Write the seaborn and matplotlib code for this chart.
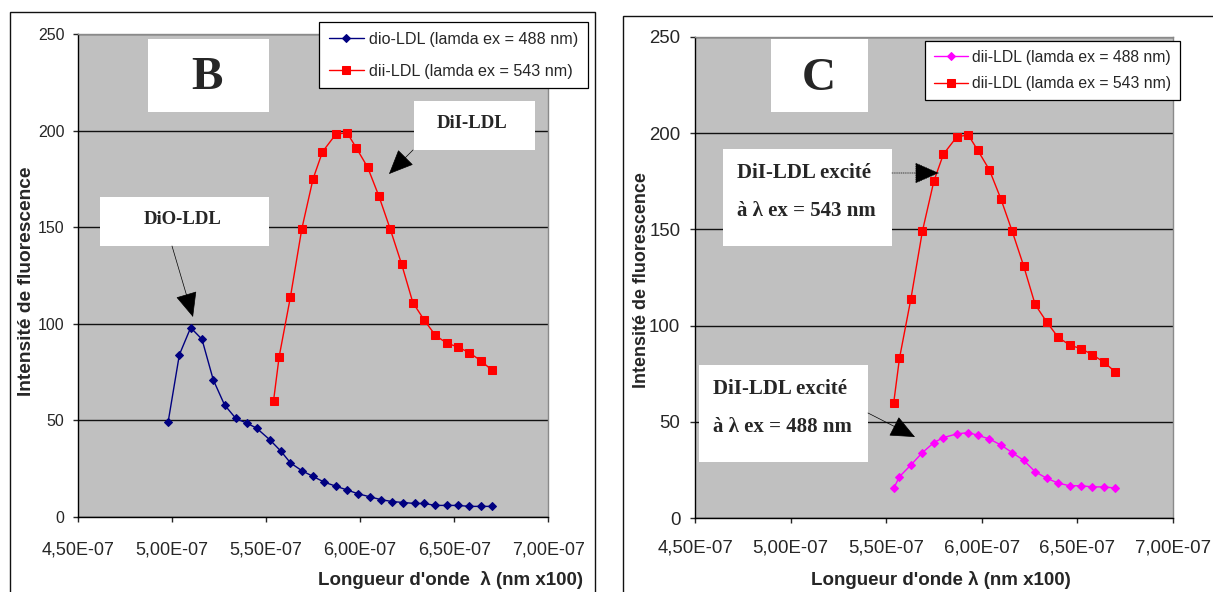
import numpy as np
import matplotlib
matplotlib.use("Agg")
import matplotlib.pyplot as plt
import seaborn as sns
from matplotlib.patches import Rectangle, FancyArrowPatch
from matplotlib.ticker import FuncFormatter, MultipleLocator

# Data (wavelength in nm, intensity in a.u.)
dio_wl_nm = [498, 504, 510, 516, 522, 528, 534, 540, 545, 552, 558, 563, 569, 575, 581,
             587, 593, 599, 605, 611, 617, 623, 629, 634, 640, 646, 652, 658, 664, 670]
dio_488 = [49, 84, 98, 92, 71, 58, 51, 48.5, 46, 40, 34, 28, 24, 21, 18,
           16, 14, 12, 10.5, 9, 8, 7.5, 7, 7, 6, 6, 6, 5.5, 5.5, 5.5]

dii_wl_nm = [554, 557, 563, 569, 575, 580, 587, 593, 598, 604, 610,
             616, 622, 628, 634, 640, 646, 652, 658, 664, 670]
dii_543 = [60, 83, 114, 149, 175, 189, 198, 199, 191, 181, 166,
           149, 131, 111, 102, 94, 90, 88, 85, 81, 76]
dii_488 = [15.6, 21.6, 27.7, 34.1, 39.3, 41.9, 43.8, 44.5, 43.1, 41.2, 38.1,
           34.1, 30.1, 24.2, 20.8, 18.3, 16.9, 16.9, 16.3, 16.3, 15.7]

dio_wl = np.array(dio_wl_nm) * 1e-9
dii_wl = np.array(dii_wl_nm) * 1e-9

sns.set_style("ticks")
plt.rcParams["font.family"] = ["Liberation Sans", "DejaVu Sans"]
SERIF = ["Liberation Serif", "DejaVu Serif"]

W, H = 1213, 592
fig = plt.figure(figsize=(W / 100, H / 100), dpi=100)


def fx(px):
    return px / W


def fy(py):
    return 1 - py / H


def style_axes(ax, ytick_size, xtick_size, xpad, ypad):
    ax.set_facecolor("#C0C0C0")
    ax.set_xlim(4.5e-7, 7.0e-7)
    ax.set_ylim(0, 250)
    ax.xaxis.set_major_locator(MultipleLocator(0.5e-7))
    ax.yaxis.set_major_locator(MultipleLocator(50))
    ax.xaxis.set_major_formatter(FuncFormatter(lambda v, p: f"{v:.2E}".replace(".", ",")))
    ax.yaxis.grid(True, color="#111111", linewidth=1.0)
    ax.xaxis.grid(False)
    ax.set_axisbelow(True)
    for s in ["left", "bottom"]:
        ax.spines[s].set_color("black")
        ax.spines[s].set_linewidth(1.0)
    for s in ["top", "right"]:
        ax.spines[s].set_color("#8a8a8a")
        ax.spines[s].set_linewidth(1.0)
    ax.tick_params(axis="x", direction="out", length=3.6, width=1, labelsize=xtick_size, pad=xpad)
    ax.tick_params(axis="y", direction="out", length=3.6, width=1, labelsize=ytick_size, pad=ypad)
    ax.set_xlabel("")
    ax.set_ylabel("")


# Panel B
ax1 = fig.add_axes([fx(77.7), fy(517), (548.4 - 77.7) / W, (517 - 34) / H])
sns.lineplot(x=dio_wl, y=dio_488, ax=ax1, color="#000080", marker="D", markersize=4.3,
             markeredgecolor="#000080", linewidth=1.0, label="dio-LDL (lamda ex = 488 nm)")
sns.lineplot(x=dii_wl, y=dii_543, ax=ax1, color="#FF0000", marker="s", markersize=5.2,
             markeredgecolor="#FF0000", linewidth=1.0, label="dii-LDL (lamda ex = 543 nm)")
style_axes(ax1, 11.5, 13, 14, 6)
h1, l1 = ax1.get_legend_handles_labels()
leg1 = ax1.legend(h1, l1, loc="upper left", bbox_to_anchor=(fx(319), fy(22)),
                  bbox_transform=fig.transFigure, borderaxespad=0, fontsize=11.6,
                  handlelength=2.2, handletextpad=0.3, borderpad=0.6, labelspacing=1.05,
                  fancybox=False, framealpha=1, edgecolor="black")
leg1.get_frame().set_linewidth(0.9)

# Panel C
ax2 = fig.add_axes([fx(695), fy(518.3), (1172.7 - 695) / W, (518.3 - 36.7) / H])
sns.lineplot(x=dii_wl, y=dii_488, ax=ax2, color="#FF00FF", marker="D", markersize=4.0,
             markeredgecolor="#FF00FF", linewidth=1.0, label="dii-LDL (lamda ex = 488 nm)")
sns.lineplot(x=dii_wl, y=dii_543, ax=ax2, color="#FF0000", marker="s", markersize=5.2,
             markeredgecolor="#FF0000", linewidth=1.0, label="dii-LDL (lamda ex = 543 nm)")
style_axes(ax2, 13.4, 13.4, 12, 7)
h2, l2 = ax2.get_legend_handles_labels()
leg2 = ax2.legend(h2, l2, loc="upper left", bbox_to_anchor=(fx(925), fy(41)),
                  bbox_transform=fig.transFigure, borderaxespad=0, fontsize=11.3,
                  handlelength=2.2, handletextpad=0.25, borderpad=0.55, labelspacing=0.75,
                  fancybox=False, framealpha=1, edgecolor="black")
leg2.get_frame().set_linewidth(0.9)

# Axis titles
fig.text(fx(583), fy(580), "Longueur d'onde  λ (nm x100)", ha="right", va="center",
         fontsize=13.5, fontweight="bold")
fig.text(fx(941), fy(580), "Longueur d'onde λ (nm x100)", ha="center", va="center",
         fontsize=13.5, fontweight="bold")
fig.text(fx(27), fy(281), "Intensité de fluorescence", rotation=90, ha="center", va="center",
         fontsize=13.8, fontweight="bold")
fig.text(fx(641), fy(280), "Intensité de fluorescence", rotation=90, ha="center", va="center",
         fontsize=12.9, fontweight="bold")

# Outer frames of the two panels
fig.add_artist(Rectangle((fx(9.6), fy(620)), (595 - 9.6) / W, (620 - 11.7) / H,
                         transform=fig.transFigure, fill=False, edgecolor="#111111", linewidth=1.0))
fig.add_artist(Rectangle((fx(623), fy(620)), (1240 - 623) / W, (620 - 15.7) / H,
                         transform=fig.transFigure, fill=False, edgecolor="#111111", linewidth=1.0))


def white_box(x0, y0, x1, y1):
    fig.add_artist(Rectangle((fx(x0), fy(y1)), (x1 - x0) / W, (y1 - y0) / H,
                             transform=fig.transFigure, facecolor="white", edgecolor="none", zorder=2))


def arrow(p0, p1, ls="-"):
    fig.add_artist(FancyArrowPatch((fx(p0[0]), fy(p0[1])), (fx(p1[0]), fy(p1[1])),
                                   transform=fig.transFigure, arrowstyle="-|>,head_length=0.8,head_width=0.35",
                                   mutation_scale=20, color="black", linewidth=0.5, linestyle=ls,
                                   shrinkA=0, shrinkB=0, zorder=3))


# Panel letters and labels
white_box(147.7, 39.3, 269, 111.7)
fig.text(fx(207), fy(78), "B", ha="center", va="center", fontsize=34, fontweight="bold",
         family=SERIF, zorder=4)
white_box(413.5, 101, 534.6, 150)
fig.text(fx(472), fy(124), "DiI-LDL", ha="center", va="center", fontsize=13.5,
         fontweight="bold", family=SERIF, zorder=4)
arrow((413, 150), (389, 174))
white_box(99.6, 197, 269, 246)
fig.text(fx(183), fy(219), "DiO-LDL", ha="center", va="center", fontsize=13.5,
         fontweight="bold", family=SERIF, zorder=4)
arrow((172, 246), (193, 317))

white_box(770.8, 39, 868, 111.7)
fig.text(fx(819), fy(79), "C", ha="center", va="center", fontsize=34, fontweight="bold",
         family=SERIF, zorder=4)
white_box(723, 149, 892, 246)
fig.text(fx(737), fy(173), "DiI-LDL excité", ha="left", va="center", fontsize=15,
         fontweight="bold", family=SERIF, zorder=4)
fig.text(fx(737), fy(211), "à λ ex = 543 nm", ha="left", va="center", fontsize=15,
         fontweight="bold", family=SERIF, zorder=4)
arrow((892, 173), (939, 173), ls=":")
white_box(699, 365.3, 867.7, 461.7)
fig.text(fx(713), fy(389), "DiI-LDL excité", ha="left", va="center", fontsize=15,
         fontweight="bold", family=SERIF, zorder=4)
fig.text(fx(713), fy(427), "à λ ex = 488 nm", ha="left", va="center", fontsize=15,
         fontweight="bold", family=SERIF, zorder=4)
arrow((868, 413), (915, 437))

fig.savefig("out.png", dpi=100, facecolor="white")
